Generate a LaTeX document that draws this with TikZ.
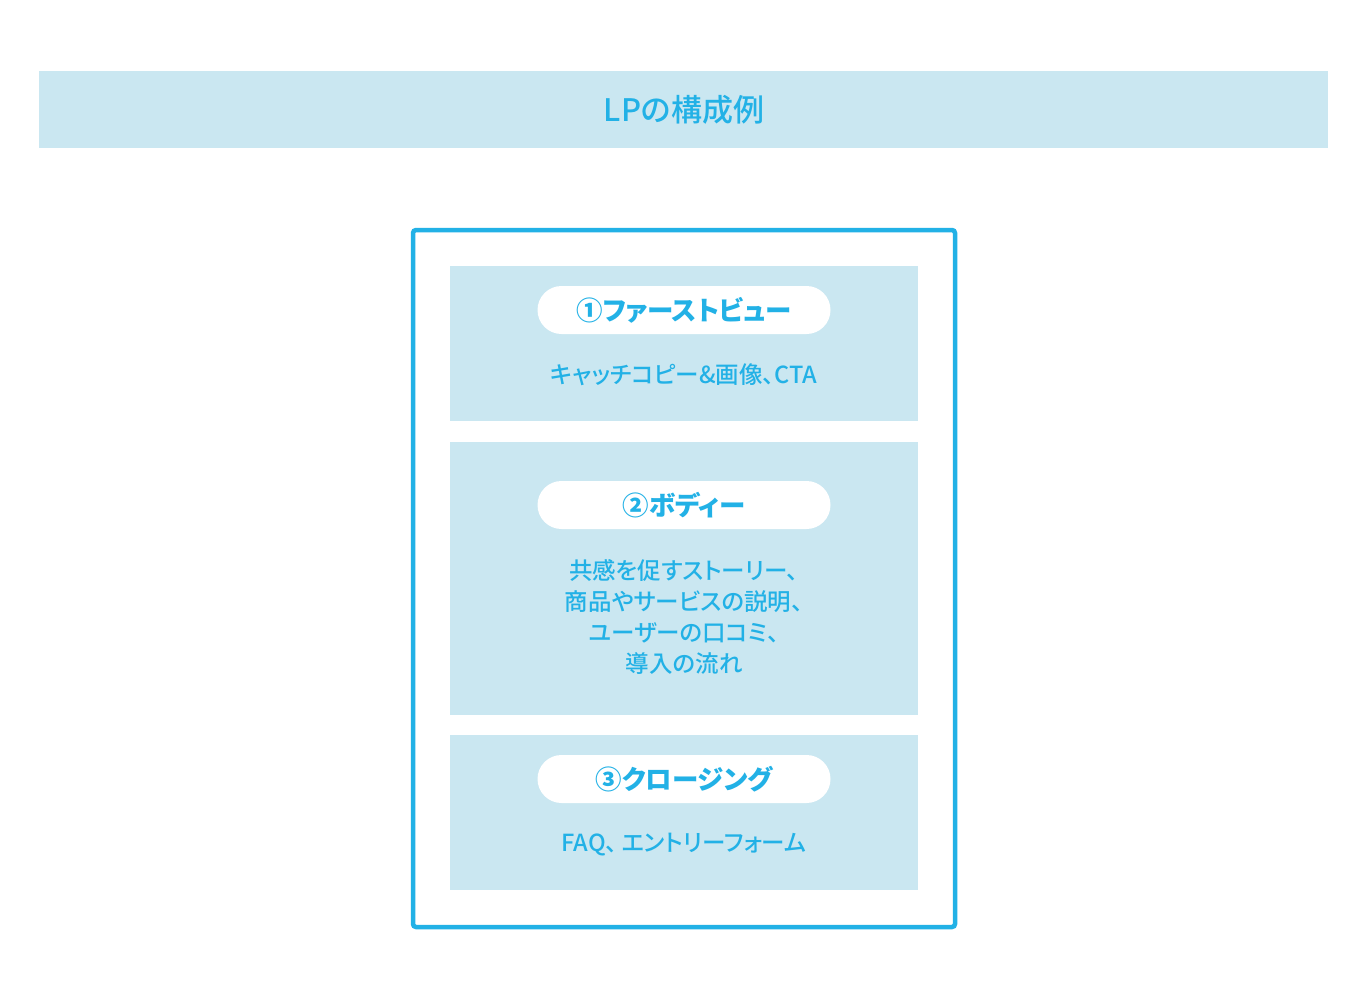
\documentclass[tikz,border=0pt]{standalone}
\usepackage{fontspec}
\setmainfont{Noto Sans CJK JP}[RawFeature=+palt]
\newfontfamily\medfont{Noto Sans CJK JP Medium}[RawFeature=+palt]
\definecolor{lightbg}{HTML}{CAE7F1}
\definecolor{accent}{HTML}{22B1E6}
\begin{document}
\begin{tikzpicture}[x=1pt,y=-1pt,
  pill/.style={fill=white,draw=none,rounded corners=24pt,minimum width=293pt,minimum height=48pt,inner sep=0pt,text=accent,font=\fontsize{26.5}{28}\selectfont\bfseries},
  bodytext/.style={text=accent,font=\medfont\fontsize{23.5}{31}\selectfont,align=center,inner sep=0pt},
  titletext/.style={text=accent,font=\medfont\fontsize{31}{34}\selectfont}]
\useasboundingbox (0,0) rectangle (1368,1001);
\fill[white] (0,0) rectangle (1368,1001);
% title band
\fill[lightbg] (39,71) rectangle (1328,148);
\node[titletext] (title) at (684,110) {LPの構成例};
% outer frame
\draw[accent,line width=4.5pt,rounded corners=3pt] (413,230) rectangle (955,927);
% section boxes
\fill[lightbg] (450,266) rectangle (918,421);
\fill[lightbg] (450,442) rectangle (918,715);
\fill[lightbg] (450,735) rectangle (918,890);
\node[pill] (p1) at (684,310) {①ファーストビュー};
\node[bodytext] (b1) at (684,375) {キャッチコピー\&画像、CTA};
\node[pill] (p2) at (684,505) {②ボディー};
\node[bodytext] (b2) at (684,617) {共感を促すストーリー、\\商品やサービスの説明、\\ユーザーの口コミ、\\導入の流れ};
\node[pill] (p3) at (684,779) {③クロージング};
\node[bodytext] (b3) at (684,845) {FAQ、\hspace{4pt}エントリーフォーム};
\end{tikzpicture}
\end{document}
